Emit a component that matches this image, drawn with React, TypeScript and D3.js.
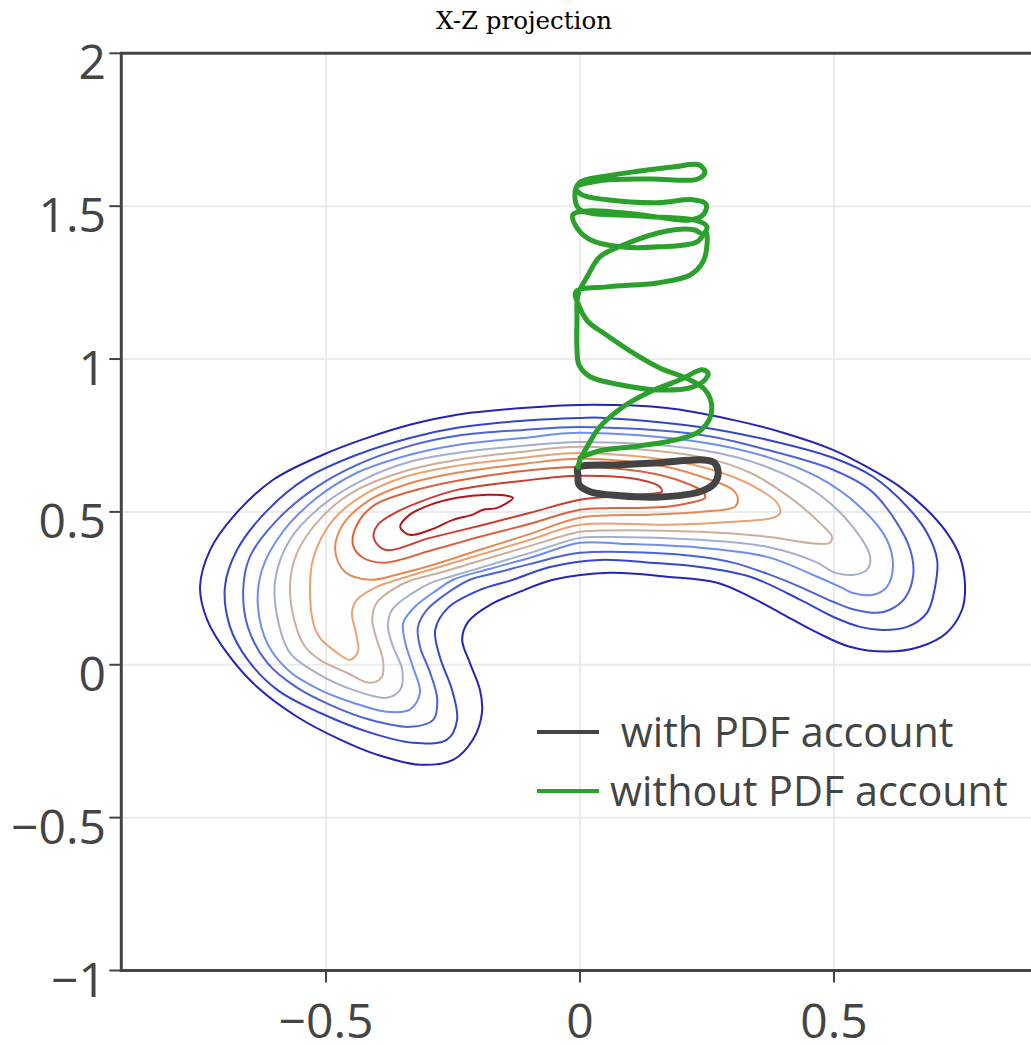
import React from "react";
import * as d3 from "d3";

type P = [number, number];

const title = "X-Z projection";
const xTickValues = [-0.5, 0, 0.5];
const xTickLabels = ["\u22120.5", "0", "0.5"];
const yTickValues = [-1, -0.5, 0, 0.5, 1, 1.5, 2];
const yTickLabels = ["\u22121", "\u22120.5", "0", "0.5", "1", "1.5", "2"];
const legendLabels = [" with PDF account", "without PDF account"];
const seriesColors = ["#444444", "#2ca02c"];
const levelColors = [
  "#2424b8", "#3446cc", "#4a62dc", "#6d8ef0", "#a5aed0", "#ccae9c",
  "#eba273", "#e68852", "#da623f", "#cc3c30", "#b4141e",
];

const level1: P[] = [[0,0.850],[0.171,0.840],[0.301,0.801],[0.400,0.759],[0.498,0.703],[0.565,0.647],[0.630,0.582],[0.683,0.507],[0.722,0.432],[0.748,0.353],[0.758,0.255],[0.752,0.180],[0.722,0.105],[0.669,0.059],[0.604,0.043],[0.531,0.059],[0.467,0.105],[0.394,0.170],[0.335,0.222],[0.270,0.268],[0.171,0.288],[0.059,0.301],[-0.053,0.278],[-0.118,0.239],[-0.177,0.196],[-0.220,0.141],[-0.232,0.082],[-0.217,0.007],[-0.197,-0.082],[-0.193,-0.157],[-0.211,-0.245],[-0.250,-0.311],[-0.315,-0.327],[-0.400,-0.294],[-0.472,-0.245],[-0.557,-0.170],[-0.636,-0.072],[-0.695,0.039],[-0.734,0.147],[-0.748,0.255],[-0.728,0.376],[-0.683,0.484],[-0.604,0.605],[-0.506,0.687],[-0.419,0.742],[-0.335,0.785],[-0.242,0.818],[-0.112,0.840]];
const level2: P[] = [[0,0.807],[0.039,0.808],[0.236,0.778],[0.368,0.736],[0.498,0.677],[0.577,0.615],[0.644,0.517],[0.683,0.432],[0.703,0.343],[0.699,0.255],[0.683,0.170],[0.644,0.124],[0.596,0.114],[0.551,0.124],[0.498,0.157],[0.433,0.213],[0.335,0.288],[0.236,0.320],[0.138,0.334],[0.039,0.343],[-0.059,0.320],[-0.132,0.278],[-0.197,0.245],[-0.260,0.186],[-0.285,0.114],[-0.276,0.026],[-0.252,-0.082],[-0.242,-0.180],[-0.262,-0.245],[-0.329,-0.255],[-0.413,-0.222],[-0.512,-0.157],[-0.596,-0.082],[-0.654,0.016],[-0.689,0.124],[-0.699,0.255],[-0.675,0.376],[-0.616,0.504],[-0.537,0.612],[-0.439,0.687],[-0.335,0.742],[-0.242,0.775],[-0.112,0.798]];
const level3: P[] = [[0,0.778],[0.236,0.752],[0.368,0.703],[0.498,0.638],[0.571,0.572],[0.620,0.474],[0.650,0.376],[0.656,0.294],[0.640,0.219],[0.610,0.180],[0.585,0.170],[0.541,0.180],[0.498,0.206],[0.433,0.255],[0.368,0.298],[0.301,0.334],[0.236,0.353],[0.138,0.366],[0,0.366],[-0.098,0.330],[-0.157,0.304],[-0.217,0.278],[-0.266,0.229],[-0.301,0.180],[-0.319,0.124],[-0.315,0.059],[-0.295,-0.026],[-0.281,-0.114],[-0.289,-0.180],[-0.335,-0.203],[-0.413,-0.180],[-0.492,-0.131],[-0.557,-0.075],[-0.616,0.007],[-0.654,0.124],[-0.663,0.245],[-0.650,0.353],[-0.596,0.474],[-0.518,0.582],[-0.439,0.654],[-0.335,0.716],[-0.242,0.749],[-0.112,0.768]];
const level4: P[] = [[0,0.759],[0.236,0.729],[0.368,0.680],[0.467,0.615],[0.551,0.517],[0.604,0.409],[0.616,0.320],[0.604,0.255],[0.577,0.229],[0.537,0.235],[0.512,0.255],[0.467,0.288],[0.368,0.353],[0.236,0.383],[0.079,0.396],[0,0.399],[-0.098,0.350],[-0.177,0.314],[-0.250,0.278],[-0.281,0.245],[-0.325,0.190],[-0.348,0.137],[-0.344,0.072],[-0.329,-0.007],[-0.315,-0.092],[-0.335,-0.147],[-0.380,-0.154],[-0.447,-0.124],[-0.512,-0.082],[-0.571,-0.023],[-0.614,0.065],[-0.634,0.190],[-0.626,0.311],[-0.585,0.435],[-0.518,0.546],[-0.439,0.628],[-0.335,0.687],[-0.242,0.719],[-0.112,0.742]];
const level5: P[] = [[0,0.729],[0.236,0.703],[0.368,0.647],[0.467,0.562],[0.537,0.451],[0.571,0.353],[0.565,0.311],[0.537,0.294],[0.498,0.304],[0.467,0.334],[0.368,0.386],[0.236,0.409],[0.039,0.418],[0,0.415],[-0.098,0.366],[-0.197,0.317],[-0.256,0.288],[-0.289,0.271],[-0.329,0.235],[-0.370,0.180],[-0.378,0.124],[-0.368,0.059],[-0.350,-0.016],[-0.354,-0.082],[-0.380,-0.108],[-0.447,-0.082],[-0.512,-0.033],[-0.571,0.039],[-0.596,0.157],[-0.600,0.278],[-0.571,0.409],[-0.506,0.523],[-0.427,0.605],[-0.335,0.664],[-0.242,0.693],[-0.112,0.716]];
const level6: P[] = [[0,0.713],[0.236,0.680],[0.335,0.628],[0.419,0.540],[0.472,0.464],[0.496,0.419],[0.492,0.399],[0.467,0.396],[0.368,0.419],[0.236,0.435],[0.039,0.439],[0,0.435],[-0.098,0.389],[-0.197,0.340],[-0.276,0.301],[-0.329,0.278],[-0.360,0.255],[-0.400,0.203],[-0.409,0.147],[-0.400,0.082],[-0.388,0.016],[-0.390,-0.039],[-0.413,-0.059],[-0.459,-0.026],[-0.512,0.016],[-0.541,0.059],[-0.557,0.114],[-0.571,0.255],[-0.557,0.366],[-0.506,0.487],[-0.439,0.572],[-0.335,0.638],[-0.242,0.670],[-0.112,0.697]];
const level7: P[] = [[0,0.693],[0.203,0.661],[0.301,0.615],[0.354,0.572],[0.388,0.530],[0.394,0.497],[0.380,0.481],[0.301,0.468],[0.171,0.458],[0,0.458],[-0.098,0.409],[-0.197,0.360],[-0.295,0.311],[-0.360,0.278],[-0.400,0.255],[-0.439,0.213],[-0.449,0.170],[-0.441,0.105],[-0.437,0.043],[-0.453,0.016],[-0.478,0.039],[-0.512,0.088],[-0.524,0.131],[-0.531,0.213],[-0.526,0.343],[-0.486,0.474],[-0.419,0.562],[-0.344,0.615],[-0.242,0.651],[-0.112,0.677]];
const level8: P[] = [[0,0.674],[0.171,0.647],[0.256,0.605],[0.301,0.572],[0.311,0.540],[0.305,0.517],[0.236,0.500],[0.138,0.491],[0,0.481],[-0.098,0.428],[-0.197,0.376],[-0.295,0.324],[-0.354,0.298],[-0.413,0.278],[-0.463,0.304],[-0.482,0.376],[-0.467,0.458],[-0.413,0.540],[-0.344,0.589],[-0.242,0.628],[-0.112,0.657]];
const level9: P[] = [[0,0.647],[0.124,0.631],[0.203,0.598],[0.242,0.566],[0.246,0.546],[0.217,0.530],[0.171,0.517],[0.104,0.513],[0,0.507],[-0.098,0.461],[-0.197,0.419],[-0.295,0.373],[-0.384,0.334],[-0.427,0.350],[-0.447,0.392],[-0.439,0.458],[-0.404,0.523],[-0.335,0.566],[-0.242,0.602],[-0.112,0.634]];
const level10: P[] = [[0,0.618],[0.118,0.605],[0.157,0.582],[0.161,0.566],[0.138,0.559],[0.093,0.553],[0,0.540],[-0.098,0.497],[-0.197,0.455],[-0.295,0.415],[-0.384,0.376],[-0.406,0.415],[-0.398,0.458],[-0.364,0.497],[-0.315,0.533],[-0.242,0.572],[-0.112,0.602]];
const level11: P[] = [[-0.354,0.451],[-0.335,0.491],[-0.295,0.523],[-0.242,0.546],[-0.183,0.556],[-0.144,0.553],[-0.132,0.546],[-0.163,0.513],[-0.191,0.507],[-0.211,0.491],[-0.250,0.474],[-0.295,0.441],[-0.335,0.425]];
const contourLevels: P[][] = [level1, level2, level3, level4, level5, level6, level7, level8, level9, level10, level11];

const withPDF: P[] = [[-0.004,0.644],[0.079,0.654],[0.157,0.661],[0.242,0.670],[0.264,0.661],[0.272,0.631],[0.264,0.592],[0.236,0.566],[0.157,0.549],[0.079,0.553],[0.020,0.566],[-0.002,0.589],[-0.004,0.621]];

const withoutPDF: P[] = [
  [0,0.677],[0.039,0.700],[0.118,0.716],[0.197,0.739],[0.236,0.765],[0.256,0.808],[0.258,0.860],[0.244,0.903],[0.207,0.939],[0.157,0.971],[0.098,1.027],[0.049,1.082],[0.016,1.122],[0,1.167],[-0.008,1.220],
  [0.053,1.236],[0.152,1.249],[0.217,1.275],[0.242,1.318],[0.250,1.373],[0.248,1.416],
  [0.230,1.383],[0.157,1.367],[0.079,1.367],[0.020,1.390],[-0.006,1.429],[-0.014,1.472],
  [0.020,1.485],[0.118,1.472],[0.217,1.455],[0.244,1.475],[0.248,1.507],
  [0.222,1.521],[0.152,1.511],[0.053,1.521],[0.004,1.537],[-0.008,1.560],
  [0.039,1.583],[0.138,1.589],[0.232,1.589],[0.246,1.612],[0.234,1.635],
  [0.183,1.628],[0.118,1.615],[0.053,1.599],[-0.002,1.576],
  [-0.010,1.527],[0,1.488],
  [0.118,1.468],[0.232,1.452],[0.250,1.432],[0.242,1.409],
  [0.226,1.422],[0.171,1.419],[0.085,1.373],[0.039,1.334],[0.014,1.269],[-0.004,1.210],
  [-0.006,1.128],[-0.006,1.030],[-0.002,0.981],[0.020,0.942],[0.079,0.916],[0.152,0.899],[0.217,0.906],[0.246,0.932],[0.252,0.955],[0.240,0.965],
  [0.197,0.932],[0.138,0.893],[0.085,0.844],[0.039,0.778],[0.014,0.713],[0,0.670],[-0.004,0.647],
];

export default function App() {
  const W = 1031;
  const H = 1045;
  const x = d3.scaleLinear().domain([-0.903, 0.9]).range([121.3, 1037.2]);
  const y = d3.scaleLinear().domain([-1, 2]).range([970.5, 53.3]);
  const closed = d3.line<P>().x((d) => x(d[0])).y((d) => y(d[1])).curve(d3.curveCatmullRomClosed.alpha(0.5));
  const open = d3.line<P>().x((d) => x(d[0])).y((d) => y(d[1])).curve(d3.curveCatmullRom.alpha(0.5));
  const [x0, x1] = x.range();
  const [y0, y1] = y.range();
  const font = "'Open Sans', sans-serif";
  return (
    <svg width={W} height={H} style={{ position: "absolute", left: 0, top: 0, background: "#fff" }}>
      <defs>
        <clipPath id="plotclip">
          <rect x={x0} y={y1} width={x1 - x0} height={y0 - y1} />
        </clipPath>
      </defs>
      <text x={524} y={29} textAnchor="middle" fontFamily="'DejaVu Serif', serif" fontSize={24.5} fill="#000">{title}</text>
      {xTickValues.map((v) => (
        <line key={"gx" + v} x1={x(v)} x2={x(v)} y1={y1} y2={y0} stroke="#ebebeb" strokeWidth={2} />
      ))}
      {yTickValues.filter((v) => v > -1 && v < 2).map((v) => (
        <line key={"gy" + v} x1={x0} x2={x1} y1={y(v)} y2={y(v)} stroke="#ebebeb" strokeWidth={2} />
      ))}
      <g clipPath="url(#plotclip)">
        {contourLevels.map((pts, i) => (
          <path key={"c" + i} d={closed(pts) || ""} fill="none" stroke={levelColors[i]} strokeWidth={2} />
        ))}
        <path d={closed(withPDF) || ""} fill="none" stroke={seriesColors[0]} strokeWidth={7} strokeLinejoin="round" />
        <path d={open(withoutPDF) || ""} fill="none" stroke={seriesColors[1]} strokeWidth={5} strokeLinejoin="round" strokeLinecap="round" />
      </g>
      <line x1={x0} x2={x0} y1={y1 - 1.5} y2={y0 + 1.5} stroke="#444" strokeWidth={3} />
      <line x1={x0} x2={x1} y1={y0} y2={y0} stroke="#444" strokeWidth={3} />
      <line x1={x0} x2={x1} y1={y1} y2={y1} stroke="#444" strokeWidth={3} />
      <line x1={x1} x2={x1} y1={y1} y2={y0} stroke="#444" strokeWidth={3} />
      {yTickValues.map((v, i) => (
        <g key={"ty" + v}>
          <line x1={x0 - 12} x2={x0} y1={y(v)} y2={y(v)} stroke="#444" strokeWidth={2} />
          <text x={106} y={y(v) + 26} textAnchor="end" fontFamily={font} fontSize={48} fill="#444">{yTickLabels[i]}</text>
        </g>
      ))}
      {xTickValues.map((v, i) => (
        <g key={"tx" + v}>
          <line x1={x(v)} x2={x(v)} y1={y0} y2={y0 + 12} stroke="#444" strokeWidth={2} />
          <text x={x(v)} y={1038} textAnchor="middle" fontFamily={font} fontSize={48} fill="#444">{xTickLabels[i]}</text>
        </g>
      ))}
      {legendLabels.map((label, i) => (
        <g key={"lg" + i} transform={`translate(0, ${732 + i * 59})`}>
          <line x1={537} x2={599} y1={0} y2={0} stroke={seriesColors[i]} strokeWidth={4} />
          <text x={610} y={15} fontFamily={font} fontSize={41.3} fill="#444" style={{ whiteSpace: "pre" }}>{label}</text>
        </g>
      ))}
    </svg>
  );
}
